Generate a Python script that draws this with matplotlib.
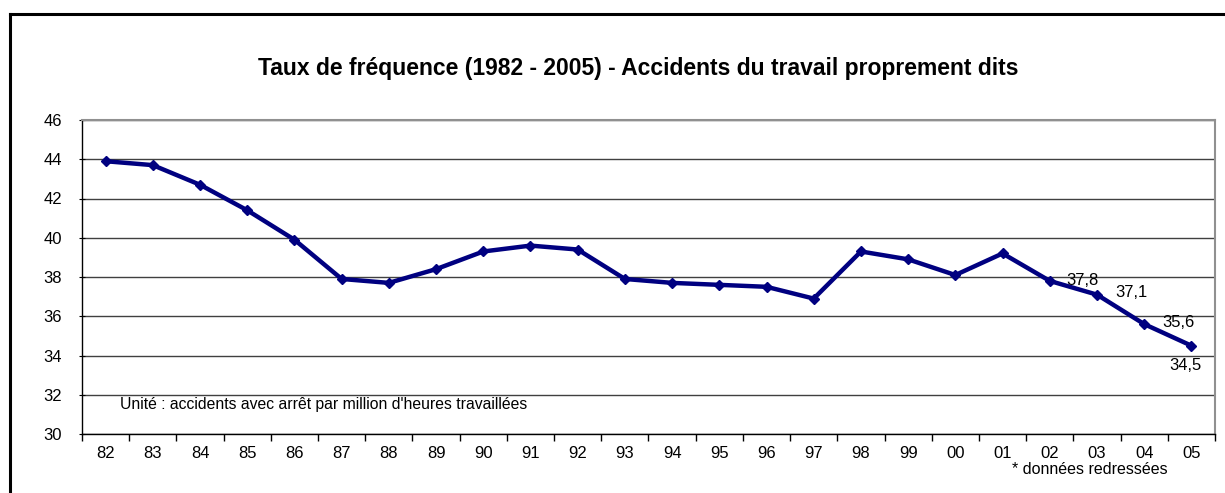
import numpy as np
import matplotlib
matplotlib.use("Agg")
import matplotlib.pyplot as plt
from matplotlib.lines import Line2D

plt.rcParams['font.family'] = ['Liberation Sans', 'DejaVu Sans']

# Donnees
annees = ["82", "83", "84", "85", "86", "87", "88", "89", "90", "91", "92", "93",
          "94", "95", "96", "97", "98", "99", "00", "01", "02", "03", "04", "05"]
taux = [43.9, 43.7, 42.7, 41.4, 39.9, 37.9, 37.7, 38.4, 39.3, 39.6, 39.4, 37.9,
        37.7, 37.6, 37.5, 36.9, 39.3, 38.9, 38.1, 39.2, 37.8, 37.1, 35.6, 34.5]
etiquettes = {20: "37,8", 21: "37,1", 22: "35,6", 23: "34,5"}
y_ticks = [30, 32, 34, 36, 38, 40, 42, 44, 46]

W, H = 1225, 493
fig = plt.figure(figsize=(W / 100, H / 100), dpi=100)
ax = fig.add_axes([82 / W, (H - 434) / H, (1215 - 82) / W, (434 - 120) / H])

x = np.arange(len(annees))
ax.plot(x, taux, color='#000080', linewidth=3.2, marker='D', markersize=5.5,
        markerfacecolor='#000080', markeredgecolor='#000080', zorder=3)

ax.set_xlim(-0.5, len(annees) - 0.5)
ax.set_ylim(30, 46)
ax.set_yticks(y_ticks)
ax.set_xticks(x)
ax.set_xticklabels(annees)
ax.set_xticks(np.arange(len(annees) + 1) - 0.5, minor=True)
ax.tick_params(axis='x', which='major', length=0, pad=9, labelsize=12)
ax.tick_params(axis='x', which='minor', length=5, direction='out', width=1)
ax.tick_params(axis='y', length=5, direction='inout', labelsize=12, pad=12)
ax.grid(axis='y', color='#404040', linewidth=1)
ax.set_axisbelow(True)

for s in ['top', 'right']:
    ax.spines[s].set_color('#909090')
    ax.spines[s].set_linewidth(1.5)
for s in ['left', 'bottom']:
    ax.spines[s].set_color('black')
    ax.spines[s].set_linewidth(1)

# etiquettes des dernieres valeurs
decal = {20: (12, 0), 21: (13, 1.5), 22: (13, 1), 23: (-16, -14)}
for i, txt in etiquettes.items():
    dx, dy = decal[i]
    ax.annotate(txt, (x[i], taux[i]), xytext=(dx, dy), textcoords='offset points',
                ha='left', va='center', fontsize=12)

ax.text(0.0335, 0.095, "Unité : accidents avec arrêt par million d'heures travaillées",
        transform=ax.transAxes, fontsize=11.3, va='center')

fig.text(638 / W, 1 - 68 / H,
         "Taux de fréquence (1982 - 2005) - Accidents du travail proprement dits",
         ha='center', va='center', fontsize=16.5, fontweight='bold')
fig.text(1090 / W, 1 - 469 / H, "* données redressées", ha='center', va='center',
         fontsize=11.5)

# cadre exterieur
fx, fy = 9.5 / W, 1 - 14 / H
fig.add_artist(Line2D([fx, fx], [0, fy], transform=fig.transFigure, color='black', linewidth=2.2))
fig.add_artist(Line2D([fx, 1], [fy, fy], transform=fig.transFigure, color='black', linewidth=2.2))

fig.savefig("out.png", dpi=100)
